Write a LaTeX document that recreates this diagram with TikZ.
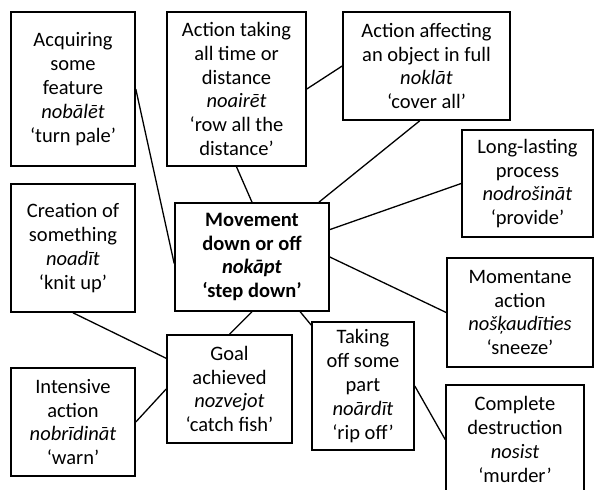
\documentclass[tikz,border=0pt]{standalone}
\usepackage{fontspec}
\setmainfont{Carlito}
\usetikzlibrary{calc}
\begin{document}
\begin{tikzpicture}[x=1pt,y=-1pt,
  box/.style={draw=black, line width=1.6pt, fill=white, rectangle, inner sep=0pt,
    align=center, font=\fontsize{20.5}{23.8}\selectfont},
  link/.style={draw=black, line width=1.3pt}]
\useasboundingbox (0,0) rectangle (595,490);

% central meaning
\node[box, font=\fontsize{20.5}{23.8}\selectfont\bfseries, minimum width=154, minimum height=108] (M) at (252,257)
  {Movement\\down or off\\\textit{nokāpt}\\‘step down’};

% derived meanings
\node[box, minimum width=124, minimum height=154] (A) at (73,89)
  {Acquiring\\some\\feature\\\textit{nobālēt}\\‘turn pale’};
\node[box, minimum width=139, minimum height=154] (B) at (236.5,89)
  {Action taking\\all time or\\distance\\\textit{noairēt}\\‘row all the\\distance’};
\node[box, minimum width=167, minimum height=108] (C) at (426.5,66)
  {Action affecting\\an object in full\\\textit{noklāt}\\‘cover all’};
\node[box, minimum width=131, minimum height=107] (D) at (527.5,183.5)
  {Long-lasting\\process\\\textit{nodrošināt}\\‘provide’};
\node[box, minimum width=124, minimum height=128] (E) at (73,248)
  {Creation of\\something\\\textit{noadīt}\\‘knit up’};
\node[box, minimum width=125, minimum height=108] (G) at (229.5,389)
  {Goal\\achieved\\\textit{nozvejot}\\‘catch fish’};
\node[box, minimum width=124, minimum height=108] (I) at (73,422)
  {Intensive\\action\\\textit{nobrīdināt}\\‘warn’};
\node[box, minimum width=102, minimum height=128] (T) at (363,386)
  {Taking\\off some\\part\\\textit{noārdīt}\\‘rip off’};
\node[box, minimum width=146, minimum height=109] (Mo) at (520,312.5)
  {Momentane\\action\\\textit{nošķaudīties}\\‘sneeze’};
\node[box, minimum width=138, minimum height=109] (K) at (515,439.5)
  {Complete\\destruction\\\textit{nosist}\\‘murder’};

% connectors
\draw[link] (A.east) -- ($(M.north west)!0.56!(M.south west)$);
\draw[link] (B.south) -- (M.north);
\draw[link] (B.east) -- (C.west);
\draw[link] ($(C.south west)!0.46!(C.south east)$) -- ($(M.north west)!0.93!(M.north east)$);
\draw[link] (D.west) -- ($(M.north east)!0.25!(M.south east)$);
\draw[link] (M.east) -- (Mo.west);
\draw[link] ($(M.south west)!0.81!(M.south east)$) -- ($(T.north west)!0.03!(T.south west)$);
\draw[link] (T.east) -- (K.west);
\draw[link] (M.south) -- (G.north);
\draw[link] (E.south) -- ($(G.north west)!0.22!(G.south west)$);
\draw[link] (I.east) -- (G.west);
\end{tikzpicture}
\end{document}
